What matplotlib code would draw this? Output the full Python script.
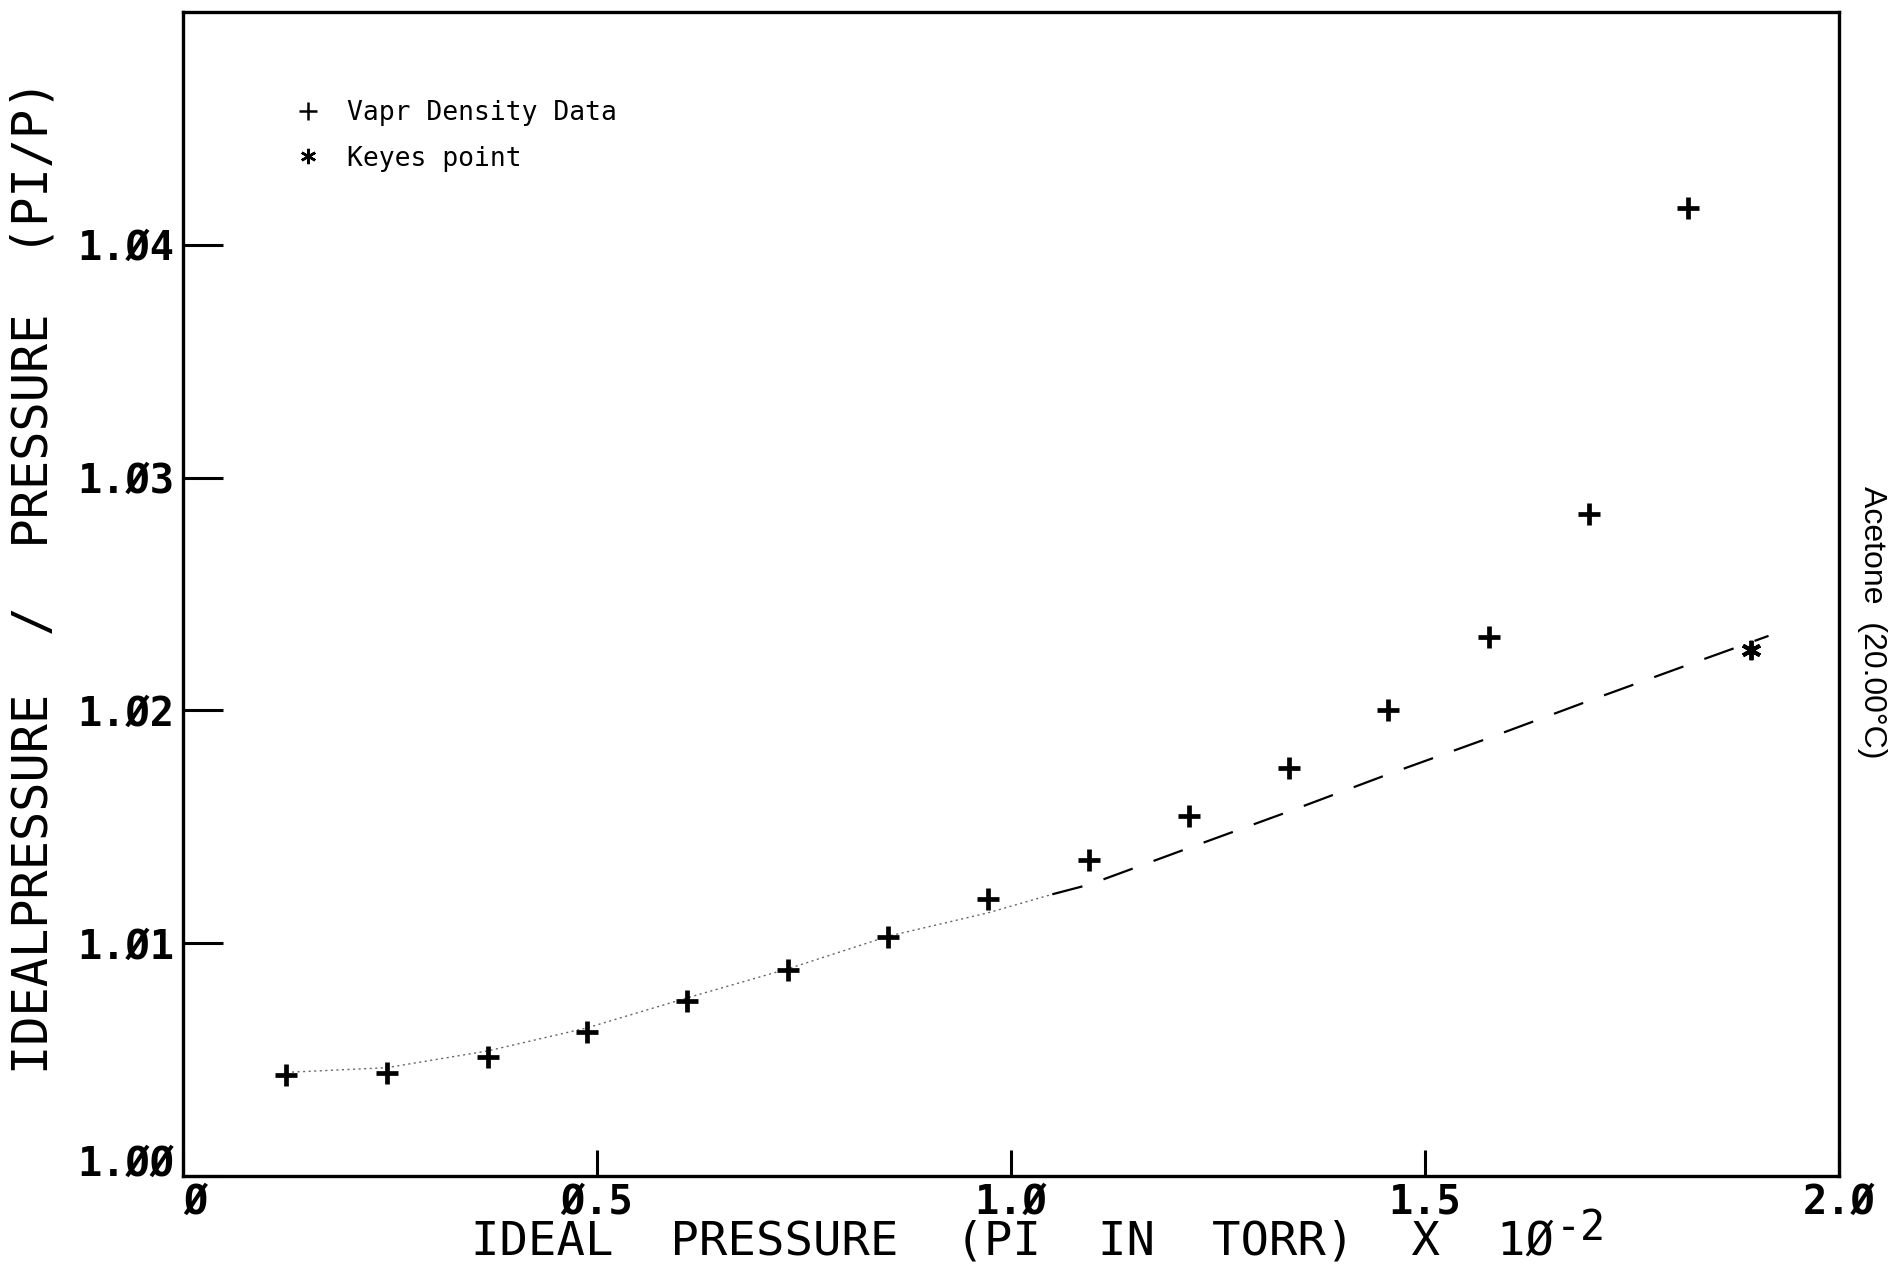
import matplotlib
matplotlib.use("Agg")
from matplotlib import pyplot as plt
from matplotlib.lines import Line2D

# measured points (ideal pressure x 1e-2 torr, PI/P)
vapr_x = [0.125, 0.246, 0.368, 0.488, 0.609, 0.731, 0.852, 0.972,
          1.094, 1.215, 1.336, 1.456, 1.577, 1.698, 1.818]
vapr_y = [1.00434, 1.00444, 1.00512, 1.00620, 1.00750, 1.00884, 1.01028, 1.01189,
          1.01359, 1.01545, 1.01752, 1.02000, 1.02315, 1.02842, 1.04160]

keyes_x = [1.894]
keyes_y = [1.02258]

# fitted curve
fit_x = [0.125, 0.246, 0.368, 0.488, 0.609, 0.731, 0.852, 0.972, 1.05,
         1.094, 1.215, 1.336, 1.456, 1.577, 1.698, 1.818, 1.915]
fit_y = [1.00445, 1.00465, 1.00537, 1.00636, 1.00765, 1.00890, 1.01030, 1.01130, 1.01210,
         1.01251, 1.01409, 1.01566, 1.01726, 1.01881, 1.02041, 1.02196, 1.02320]
split_x = 1.05

xticks = [0, 0.5, 1.0, 1.5, 2.0]
xtick_labels = ["Ø", "Ø.5", "1.Ø", "1.5", "2.Ø"]
yticks = [1.00, 1.01, 1.02, 1.03, 1.04]
ytick_labels = ["1.ØØ", "1.Ø1", "1.Ø2", "1.Ø3", "1.Ø4"]

MONO = "DejaVu Sans Mono"

fig = plt.figure(figsize=(18.88, 12.65), dpi=100)
ax = fig.add_axes([0.0969, 0.0704, 0.8771, 0.9201])

# lower part of the fit is faint dotted, upper part dashed
lo = [i for i, x in enumerate(fit_x) if x <= split_x]
hi = [i for i, x in enumerate(fit_x) if x >= split_x]
ax.plot([fit_x[i] for i in lo], [fit_y[i] for i in lo],
        color="#666666", lw=1.0, ls=(0, (1.5, 2.5)))
ax.plot([fit_x[i] for i in hi], [fit_y[i] for i in hi],
        color="black", lw=1.6, ls=(0, (14, 10)))

ax.plot(vapr_x, vapr_y, ls="none", marker="+", ms=16, mew=3.4, color="black")
ax.plot(keyes_x, keyes_y, ls="none", marker=(6, 2, 0), ms=14, mew=2.8, color="black")

ax.set_xlim(0, 2.0)
ax.set_ylim(1.00, 1.05)

ax.set_xticks(xticks)
ax.set_xticklabels(xtick_labels, fontfamily=MONO, fontweight="bold", fontsize=29)
ax.set_yticks(yticks)
ax.set_yticklabels(ytick_labels, fontfamily=MONO, fontweight="bold", fontsize=29)
ax.tick_params(axis="x", direction="in", length=19, width=2.2, pad=5)
ax.tick_params(axis="y", direction="in", length=29, width=2.2, pad=6)
# corner labels sit clear of each other, as in the plotter output
ax.get_xticklabels()[0].set_ha("left")
ax.get_yticklabels()[0].set_va("baseline")
for s in ax.spines.values():
    s.set_linewidth(2.4)

ax.set_xlabel("IDEAL  PRESSURE  (PI  IN  TORR)  X  1Ø",
              fontfamily=MONO, fontsize=34)
ax.xaxis.set_label_coords(0.501, -0.057)
ax.xaxis.label.set_va("center")
# exponent of the x label, drawn next to it at nearly full size
ax.annotate("-2", xy=(1, 0.5), xycoords=ax.xaxis.label, xytext=(1, 10),
            textcoords="offset points", ha="left", va="center",
            fontfamily=MONO, fontsize=30)

ax.set_ylabel("IDEALPRESSURE  /  PRESSURE  (PI/P)",
              fontfamily=MONO, fontsize=35)
ax.yaxis.set_label_coords(-0.0905, 0.515)
ax.yaxis.label.set_va("center")

fig.text(0.9915, 0.508, "Acetone  (20.00°C)", rotation=-90, ha="center", va="center",
         fontfamily="Liberation Sans", fontsize=23)

handles = [
    Line2D([], [], ls="none", marker="+", ms=13, mew=1.8, color="black"),
    Line2D([], [], ls="none", marker=(6, 2, 0), ms=11, mew=1.8, color="black"),
]
ax.legend(handles, ["Vapr Density Data", "Keyes point"], loc="upper left",
          bbox_to_anchor=(0.053, 0.945), frameon=False, handlelength=1.0,
          handletextpad=1.0, labelspacing=0.75, prop={"family": MONO, "size": 19})

fig.savefig("out.png", dpi=100)
